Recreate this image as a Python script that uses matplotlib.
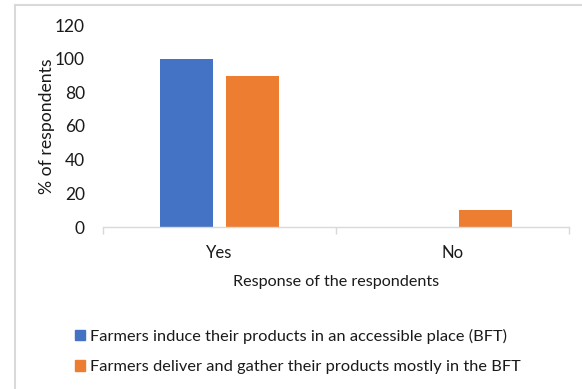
import matplotlib.pyplot as plt
import matplotlib.lines as mlines
import matplotlib.patches as mpatches
import numpy as np

# ─── DATA ────────────────────────────────────────────────────────────────────
categories = ["Yes", "No"]
series_names = [
    "Farmers induce their products in an accessible place (BFT)",
    "Farmers deliver and gather their products mostly in the BFT",
]
induce_vals = [100, 0]
deliver_vals = [90, 10]
y_ticks = [0, 20, 40, 60, 80, 100, 120]

# ─── STYLE ───────────────────────────────────────────────────────────────────
BLUE = "#4472C4"
ORANGE = "#ED7D31"
GRID_GRAY = "#D9D9D9"
TEXT = "#1a1a1a"
W, H, DPI = 582, 389, 100

plt.rcParams["font.family"] = ["Lato", "DejaVu Sans"]

fig = plt.figure(figsize=(W / DPI, H / DPI), dpi=DPI, facecolor="white")
ax = fig.add_axes([103 / W, 1 - 227 / H, (569 - 103) / W, (227 - 25) / H])

x = np.arange(len(categories))
bar_w = 0.227
off = 0.1416
ax.bar(x - off, induce_vals, width=bar_w, color=BLUE, label=series_names[0])
ax.bar(x + off, deliver_vals, width=bar_w, color=ORANGE, label=series_names[1])

ax.set_xlim(-0.5, 1.5)
ax.set_ylim(0, 120)
ax.set_yticks(y_ticks)
ax.set_yticklabels([str(v) for v in y_ticks], fontsize=12.5, color=TEXT)
ax.tick_params(axis="y", length=0, pad=13)

ax.set_xticks(x)
ax.set_xticklabels(categories, fontsize=12, color=TEXT)
ax.set_xticks([-0.5, 0.5, 1.5], minor=True)
ax.tick_params(axis="x", which="major", length=0, pad=13)
ax.tick_params(axis="x", which="minor", length=5, color=GRID_GRAY, width=1)

for side in ["top", "right", "left"]:
    ax.spines[side].set_visible(False)
ax.spines["bottom"].set_color(GRID_GRAY)
ax.spines["bottom"].set_linewidth(1)

ax.set_ylabel("% of respondents", fontsize=12.7, color=TEXT, labelpad=0)
ax.set_xlabel("Response of the respondents", fontsize=11.6, color=TEXT, labelpad=10)

# legend below the plot
handles = [mpatches.Patch(color=BLUE), mpatches.Patch(color=ORANGE)]
fig.legend(handles, series_names, loc="upper left",
           bbox_to_anchor=(60 / W, 1 - 314 / H), frameon=False,
           fontsize=11.8, handlelength=0.6, handleheight=0.6,
           handletextpad=0.35, labelspacing=1.0, labelcolor=TEXT)

# chart area border (top and left edges)
fig.add_artist(mlines.Line2D([15 / W, 1], [1 - 4.5 / H] * 2,
                             transform=fig.transFigure, color=GRID_GRAY, lw=1.5))
fig.add_artist(mlines.Line2D([14.5 / W] * 2, [0, 1 - 4.5 / H],
                             transform=fig.transFigure, color=GRID_GRAY, lw=1.5))

fig.savefig("out.png", dpi=DPI, facecolor="white")
